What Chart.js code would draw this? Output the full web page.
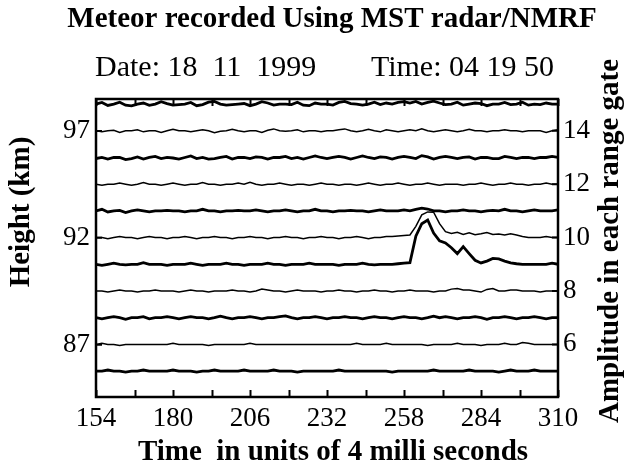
<!DOCTYPE html>
<html>
<head>
<meta charset="utf-8">
<script src="https://cdn.jsdelivr.net/npm/chart.js@4.4.0/dist/chart.umd.min.js"></script>
<style>
  html, body { margin: 0; background: #fff; }
  #wrap { width: 631px; height: 471px; }
</style>
</head>
<body>
<div id="wrap"><canvas id="meteorChart"></canvas></div>
<script>
// time axis (units of 4 ms), sampled every 2 units
const times = [
  154,156,158,160,162,164,166,168,170,172,
  174,176,178,180,182,184,186,188,190,192,
  194,196,198,200,202,204,206,208,210,212,
  214,216,218,220,222,224,226,228,230,232,
  234,236,238,240,242,244,246,248,250,252,
  254,256,258,260,262,264,266,268,270,272,
  274,276,278,280,282,284,286,288,290,292,
  294,296,298,300,302,304,306,308,310
];
const xTickLabels = [154, 180, 206, 232, 258, 284, 310];
const xMinorTicks = [154,167,180,193,206,219,232,245,258,271,284,297,310];
const heightTicks = [87, 92, 97];
const ampTicks = [6, 8, 10, 12, 14];

// amplitude of each range gate (offset stacked), top gate first
const gate15 = [
  15.00,15.06,14.95,15.00,15.07,14.96,14.93,15.00,15.04,14.95,
  15.00,15.09,15.02,14.96,14.98,15.00,15.06,14.94,14.98,15.07,
  15.10,15.00,14.96,14.98,15.00,15.02,14.94,15.00,15.09,15.04,
  14.96,15.00,15.00,14.98,15.07,14.96,14.94,15.04,15.00,15.00,
  14.96,15.06,15.10,15.02,15.00,14.96,15.00,15.07,14.98,15.04,
  15.00,15.06,15.09,15.04,15.10,15.00,15.06,15.11,15.04,14.98,
  15.00,15.07,14.96,15.00,15.04,15.02,14.94,15.00,15.00,15.06,
  14.98,15.00,15.07,14.96,15.00,14.98,15.04,15.00,15.00
];
const gate14 = [
  14.00,13.96,14.00,14.02,13.94,14.00,14.00,14.04,13.96,14.00,
  14.00,13.94,14.00,14.06,14.00,14.00,13.96,14.00,14.04,14.00,
  13.93,13.98,14.00,14.06,14.00,13.96,14.00,14.00,13.94,14.02,
  14.07,14.00,13.98,14.00,14.04,13.96,14.00,14.00,13.96,14.00,
  14.00,14.04,14.07,14.00,13.96,14.00,14.06,14.00,13.96,14.04,
  14.00,13.96,14.00,14.04,14.00,14.07,14.00,13.96,14.00,14.04,
  14.00,13.96,14.00,14.06,14.00,14.00,13.96,14.00,14.00,14.04,
  14.00,14.00,13.96,14.00,14.00,14.00,13.94,14.00,14.04
];
const gate13 = [
  12.96,13.00,12.94,13.00,13.00,12.92,12.96,13.02,12.94,13.00,
  13.04,12.96,13.00,12.98,12.94,13.00,13.06,12.96,13.00,12.94,
  12.96,13.00,13.04,12.94,13.00,13.00,12.96,13.02,13.00,12.94,
  13.00,13.00,13.04,12.96,13.00,12.94,13.00,13.06,13.00,12.96,
  13.00,13.04,13.00,12.94,13.00,13.06,13.00,12.96,13.02,13.00,
  12.94,13.00,13.04,13.00,12.96,13.07,13.02,12.94,13.00,13.04,
  13.00,12.96,13.00,13.02,12.94,13.00,13.00,12.96,12.96,13.04,
  13.00,12.96,13.00,13.00,12.96,13.00,13.00,13.04,13.00
];
const gate12 = [
  12.00,11.96,12.00,12.00,12.04,12.00,11.96,12.00,12.06,12.00,
  12.00,11.96,12.00,12.04,12.00,11.96,12.00,12.00,12.06,12.00,
  12.00,11.96,12.00,12.00,12.04,12.00,12.07,12.00,11.96,12.00,
  12.00,12.04,12.00,11.96,12.00,12.00,11.96,12.00,12.04,12.00,
  12.00,11.96,12.00,12.00,11.96,12.00,12.04,12.00,11.96,12.00,
  12.00,12.04,12.00,11.96,12.00,12.00,12.04,12.00,11.96,12.00,
  12.00,12.00,11.96,12.00,12.00,12.04,12.00,11.96,12.00,12.00,
  12.04,12.00,12.00,11.96,12.00,12.00,12.04,12.00,12.00
];
const gate11 = [
  11.00,11.06,10.96,11.00,11.02,10.94,11.00,11.04,11.00,10.96,
  11.00,11.00,11.02,11.00,11.00,10.96,11.00,11.00,11.06,11.00,
  11.00,10.96,11.00,11.00,11.02,11.00,11.00,11.04,11.00,10.96,
  11.00,11.00,11.04,11.00,10.96,11.00,11.00,11.06,11.00,11.00,
  10.96,11.00,11.00,11.02,11.00,11.00,10.96,11.00,11.04,11.00,
  11.00,11.00,11.04,11.00,11.06,11.10,11.07,11.00,11.00,10.96,
  11.00,11.00,11.04,11.00,11.00,10.96,11.00,11.02,11.00,11.06,
  11.00,11.00,10.96,11.00,11.04,11.00,11.00,11.00,11.04
];
const gate10 = [
  10.00,10.00,9.96,10.00,10.04,10.00,10.00,9.96,10.00,10.04,
  10.00,10.00,9.96,10.00,10.00,10.04,10.00,9.96,10.00,10.00,
  10.04,10.00,10.00,9.96,10.00,10.00,10.04,10.00,10.00,9.96,
  10.00,10.00,10.04,10.00,10.00,9.96,10.00,10.00,10.04,10.00,
  10.00,9.96,10.00,10.00,10.04,10.00,9.96,10.00,10.00,10.04,
  10.04,10.06,10.08,10.10,10.42,10.85,10.96,10.95,10.52,10.22,
  10.15,10.20,10.12,10.18,10.11,10.14,10.19,10.12,10.13,10.10,
  10.14,10.10,10.04,10.00,10.00,10.00,10.04,10.00,10.00
];
const gate9 = [
  9.00,8.96,9.00,9.04,9.00,8.98,9.00,9.00,9.06,9.00,
  9.00,9.00,8.96,9.00,9.00,9.00,9.04,9.00,8.96,9.00,
  9.00,9.00,9.04,9.00,9.00,8.96,9.00,9.00,9.00,9.04,
  9.00,9.00,8.96,9.00,9.00,9.00,9.04,9.00,9.00,9.00,
  9.00,8.96,9.00,9.00,9.00,9.04,9.00,8.98,9.00,9.00,
  9.00,9.02,9.04,9.06,10.05,10.52,10.66,10.17,9.88,9.80,
  9.62,9.40,9.66,9.40,9.15,9.05,9.12,9.22,9.20,9.12,
  9.05,9.02,9.00,9.00,9.00,9.00,9.00,9.04,9.00
];
const gate8 = [
  8.00,8.00,7.96,8.00,8.04,8.00,8.00,7.96,8.00,8.00,
  8.04,8.00,8.00,8.00,7.96,8.00,8.04,8.00,8.00,7.96,
  8.00,8.00,8.00,8.04,8.00,8.00,7.96,8.00,8.07,8.04,
  8.00,8.00,7.96,8.00,8.04,8.00,8.00,8.00,7.96,8.00,
  8.00,8.04,8.00,8.00,7.96,8.00,8.00,8.04,8.00,8.00,
  7.96,8.00,8.00,8.04,8.00,8.00,8.00,7.96,8.00,8.00,
  8.07,8.09,8.04,8.04,8.00,7.96,8.06,8.09,8.00,8.00,
  8.04,8.04,8.00,8.00,8.00,7.96,8.00,8.00,8.00
];
const gate7 = [
  7.00,6.96,7.00,7.04,7.00,6.94,7.00,7.00,7.04,6.96,
  7.00,7.00,7.04,7.00,6.96,7.00,7.04,7.00,7.00,6.96,
  7.00,7.06,7.00,6.96,7.00,7.00,7.04,7.00,6.96,7.00,
  7.00,7.04,7.07,7.00,6.96,7.00,7.00,7.04,7.00,6.96,
  7.00,7.00,7.04,7.00,7.00,6.96,7.00,7.04,7.00,7.00,
  6.96,7.00,7.04,7.00,7.00,6.96,7.00,7.06,7.00,7.04,
  7.00,6.96,7.00,7.00,7.04,7.00,6.94,7.00,7.00,7.04,
  7.00,6.96,7.00,7.00,7.04,7.00,6.96,7.00,7.00
];
const gate6 = [
  6.00,6.04,6.00,6.00,5.96,6.00,6.00,6.00,6.00,6.00,
  6.00,6.00,6.00,6.04,6.00,6.00,6.00,6.00,6.00,5.96,
  6.00,6.00,6.00,6.00,6.00,6.00,6.04,6.00,6.00,6.00,
  6.00,6.00,6.00,6.00,6.00,6.00,6.00,6.00,6.00,6.00,
  6.00,6.00,6.00,6.00,6.04,6.00,6.00,6.00,6.00,6.04,
  6.00,6.00,6.00,6.00,6.00,6.00,5.96,6.00,6.00,6.00,
  6.00,6.04,6.00,6.00,6.00,5.96,6.00,6.00,6.00,6.04,
  6.00,6.00,6.07,6.04,6.00,6.00,6.00,6.00,6.00
];
const gate5 = [
  5.00,5.00,5.04,5.00,5.00,4.96,5.00,5.00,5.04,5.00,
  5.00,5.00,5.00,5.04,5.00,5.00,5.00,4.96,5.00,5.00,
  5.04,5.00,5.00,5.00,5.00,5.04,5.00,5.00,5.00,5.00,
  5.04,5.00,5.00,5.00,4.96,5.00,5.00,5.00,5.00,5.00,
  5.00,5.04,5.00,5.00,5.00,5.00,5.00,5.00,5.00,5.00,
  4.96,5.00,5.00,5.00,5.00,5.00,5.00,5.04,5.00,5.00,
  5.00,5.00,5.00,5.04,5.00,5.00,5.00,5.00,4.96,5.00,
  5.04,5.00,5.00,5.00,5.04,5.00,5.00,5.00,5.00
];

const titleText = "Meteor recorded Using MST radar/NMRF";
const dateText = "Date: 18  11  1999";
const timeText = "Time: 04 19 50";
const xTitle = "Time  in units of 4 milli seconds";
const leftTitle = "Height (km)";
const rightTitle = "Amplitude in each range gate";

const SERIF = "'Liberation Serif', 'Times New Roman', serif";

const gates = [gate15, gate14, gate13, gate12, gate11, gate10, gate9, gate8, gate7, gate6, gate5];

const datasets = gates.map((vals, i) => ({
  data: times.map((t, j) => ({ x: t, y: vals[j] })),
  borderColor: "#000",
  borderWidth: i % 2 === 0 ? 2.8 : 1.5,
  pointRadius: 0,
  tension: 0,
  yAxisID: "amp"
}));

// frame, inward tick marks and outer texts
const decor = {
  id: "decor",
  afterDatasetsDraw(chart) {
    const { ctx, chartArea: a, scales } = chart;
    ctx.save();
    ctx.strokeStyle = "#000";
    ctx.lineWidth = 2.5;
    ctx.strokeRect(a.left, a.top, a.right - a.left, a.bottom - a.top);

    ctx.lineWidth = 2;
    ctx.beginPath();
    xMinorTicks.forEach(v => {
      const x = Math.round(scales.x.getPixelForValue(v)) + 0.5;
      ctx.moveTo(x, a.bottom); ctx.lineTo(x, a.bottom - 7);
      ctx.moveTo(x, a.top); ctx.lineTo(x, a.top + 7);
    });
    heightTicks.forEach(v => {
      const y = scales.height.getPixelForValue(v);
      ctx.moveTo(a.left, y); ctx.lineTo(a.left + 6, y);
    });
    ampTicks.forEach(v => {
      const y = scales.amp.getPixelForValue(v);
      ctx.moveTo(a.right, y); ctx.lineTo(a.right - 6, y);
    });
    ctx.stroke();
    ctx.restore();
  },
  afterDraw(chart) {
    const { ctx } = chart;
    ctx.save();
    ctx.fillStyle = "#000";
    ctx.textBaseline = "middle";

    ctx.font = "bold 29px " + SERIF;
    ctx.textAlign = "center";
    ctx.fillText(titleText, 332, 20);

    ctx.font = "30px " + SERIF;
    ctx.textAlign = "left";
    ctx.fillText(dateText, 95, 68);
    ctx.textAlign = "right";
    ctx.fillText(timeText, 554, 68);

    ctx.font = "bold 29px " + SERIF;
    ctx.textAlign = "center";
    ctx.fillText(xTitle, 333, 453);

    ctx.save();
    ctx.translate(22, 212);
    ctx.rotate(-Math.PI / 2);
    ctx.fillText(leftTitle, 0, 0);
    ctx.restore();

    ctx.save();
    ctx.translate(611, 241);
    ctx.rotate(-Math.PI / 2);
    ctx.fillText(rightTitle, 0, 0);
    ctx.restore();

    ctx.restore();
  }
};

const tickFont = { family: SERIF, size: 27 };
const noGrid = { display: false, drawTicks: false, tickLength: 0 };

new Chart(document.getElementById("meteorChart"), {
  type: "line",
  data: { datasets },
  plugins: [decor],
  options: {
    responsive: true,
    maintainAspectRatio: false,
    animation: false,
    layout: { padding: { top: 99, left: 0, right: 0, bottom: 0 } },
    plugins: { legend: { display: false }, tooltip: { enabled: false } },
    scales: {
      x: {
        type: "linear",
        min: 154,
        max: 310,
        afterBuildTicks: s => { s.ticks = xTickLabels.map(v => ({ value: v })); },
        afterFit: s => { s.height = 74; },
        grid: noGrid,
        border: { display: false },
        ticks: { color: "#000", font: tickFont, padding: 6, maxRotation: 0, autoSkip: false }
      },
      height: {
        type: "linear",
        position: "left",
        display: true,
        min: 84.55,
        max: 98.5,
        afterBuildTicks: s => { s.ticks = heightTicks.map(v => ({ value: v })); },
        afterFit: s => { s.width = 96; },
        grid: noGrid,
        border: { display: false },
        ticks: { color: "#000", font: tickFont, padding: 6 }
      },
      amp: {
        type: "linear",
        position: "right",
        min: 4.03,
        max: 15.19,
        afterBuildTicks: s => { s.ticks = ampTicks.map(v => ({ value: v })); },
        afterFit: s => { s.width = 73; },
        grid: noGrid,
        border: { display: false },
        ticks: { color: "#000", font: tickFont, padding: 5 }
      }
    }
  }
});
</script>
</body>
</html>
